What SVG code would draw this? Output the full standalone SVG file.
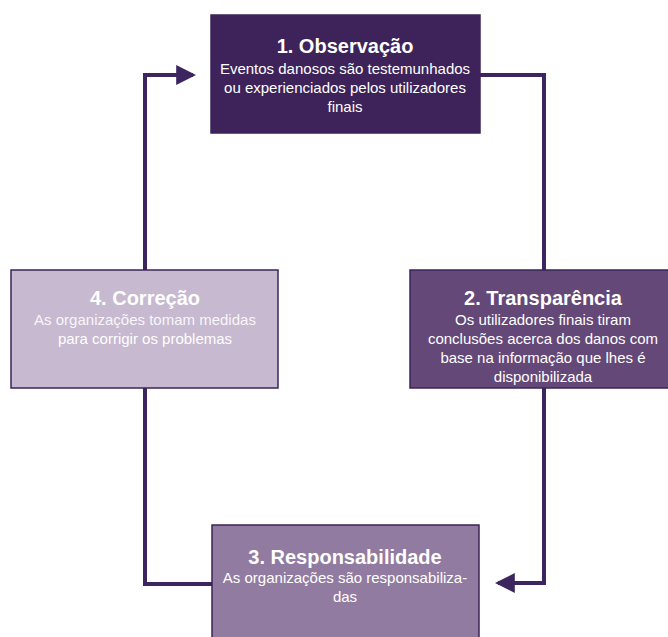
<svg xmlns="http://www.w3.org/2000/svg" width="668" height="637" viewBox="0 0 668 637">
<defs>
<style>
.box{stroke:#3b2458;stroke-width:1.5}
.t{font-family:"Liberation Sans",Arial,sans-serif;font-weight:bold;font-size:20px;fill:#fff;text-anchor:middle}
.b{font-family:"Liberation Sans",Arial,sans-serif;font-size:15px;fill:#fff;text-anchor:middle}
.c{fill:none;stroke:#3d2660;stroke-width:4}
</style>
<marker id="ah" markerWidth="5" markerHeight="5" refX="4.2" refY="2.5" orient="auto" markerUnits="strokeWidth" viewBox="0 0 5 5">
<path d="M0,0 L5,2.5 L0,5 Z" fill="#3d2660"/>
</marker>
</defs>
<rect width="668" height="637" fill="#fff"/>
<g id="connectors">
<polyline class="c" points="480,75 544,75 544,583 498,583" marker-end="url(#ah)"/>
<polyline class="c" points="212,584 145,584 145,75 193,75" marker-end="url(#ah)"/>
</g>
<g id="node1">
<rect class="box" x="211" y="15" width="269" height="118" fill="#3d2359"/>
<text class="t" x="345" y="53">1. Observação</text>
<text class="b" x="345" y="74">Eventos danosos são testemunhados</text>
<text class="b" x="345" y="93">ou experienciados pelos utilizadores</text>
<text class="b" x="345" y="112">finais</text>
</g>
<g id="node2">
<rect class="box" x="410" y="270" width="266" height="118" fill="#634878"/>
<text class="t" x="543" y="305">2. Transparência</text>
<text class="b" x="543" y="325">Os utilizadores finais tiram</text>
<text class="b" x="543" y="344">conclusões acerca dos danos com</text>
<text class="b" x="543" y="363">base na informação que lhes é</text>
<text class="b" x="543" y="382">disponibilizada</text>
</g>
<g id="node3">
<rect class="box" x="212" y="525" width="267" height="130" fill="#917ba0"/>
<text class="t" x="345" y="564">3. Responsabilidade</text>
<text class="b" x="345" y="583">As organizações são responsabiliza-</text>
<text class="b" x="345" y="602">das</text>
</g>
<g id="node4">
<rect class="box" x="11" y="270" width="267" height="118" fill="#c6b9d0"/>
<text class="t" x="145" y="305">4. Correção</text>
<text class="b" x="145" y="325" fill-opacity="0.9">As organizações tomam medidas</text>
<text class="b" x="145" y="344">para corrigir os problemas</text>
</g>
</svg>
